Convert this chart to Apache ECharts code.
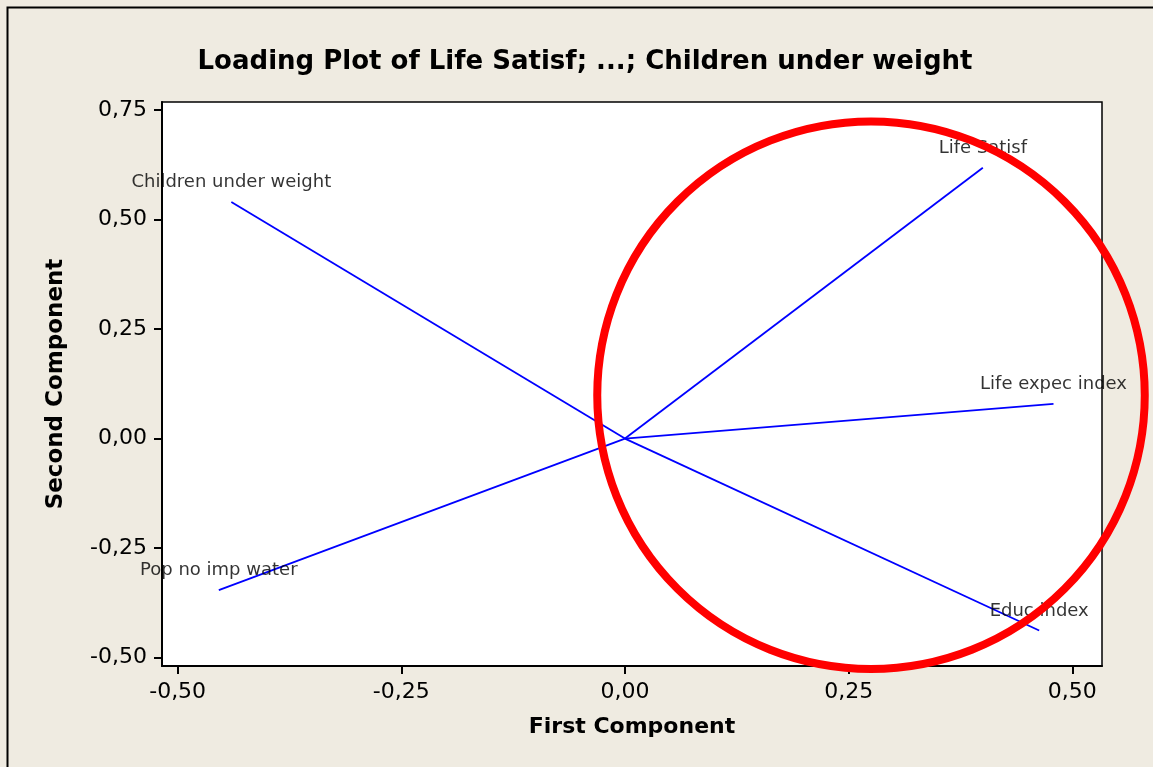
<!DOCTYPE html>
<html>
<head>
<meta charset="utf-8">
<script src="https://cdn.jsdelivr.net/npm/echarts@6/dist/echarts.min.js"></script>
<style>
  html, body { margin: 0; padding: 0; background: #efebe1; }
  #chart { width: 1153px; height: 767px; }
</style>
</head>
<body>
<div id="chart"></div>
<script>
// loadings
const variables = ['Life Satisf', 'Life expec index', 'Educ index', 'Pop no imp water', 'Children under weight']
const firstComp = [0.400, 0.479, 0.463, -0.454, -0.440]
const secondComp = [0.618, 0.079, -0.438, -0.346, 0.540]
const tickValues = [-0.5, -0.25, 0, 0.25, 0.5]
const yTickValues = [-0.5, -0.25, 0, 0.25, 0.5, 0.75]
// red highlight circle (centre in data units, radius in first-component units)
const circleCentre = [0.275, 0.099]
const circleRadius = 0.306

const chart = echarts.init(document.getElementById('chart'))
const fmt = v => v.toFixed(2).replace('.', ',')
const font = 'DejaVu Sans'

const lineSeries = variables.map((name, i) => ({
  name: name,
  type: 'line',
  data: [[0, 0], [firstComp[i], secondComp[i]]],
  showSymbol: false,
  symbol: 'none',
  lineStyle: { color: '#0000ff', width: 1.8 },
  z: 3
}))

const option = {
  backgroundColor: '#efebe1',
  animation: false,
  title: {
    text: 'Loading Plot of Life Satisf; ...; Children under weight',
    left: 580,
    textAlign: 'center',
    top: 44,
    textStyle: { fontFamily: font, fontSize: 26, fontWeight: 'bold', color: '#000' }
  },
  graphic: [{
    type: 'rect',
    left: 5,
    top: 5,
    shape: { width: 2000, height: 2000 },
    style: { fill: 'none', stroke: '#000', lineWidth: 2 },
    silent: true
  }],
  grid: {
    left: 162, top: 102, right: 51, bottom: 101,
    show: true, backgroundColor: '#fff', borderColor: '#000', borderWidth: 1.5
  },
  xAxis: {
    type: 'value',
    min: -0.5175,
    max: 0.5332,
    name: 'First Component',
    nameLocation: 'middle',
    nameGap: 50,
    nameTextStyle: { fontFamily: font, fontSize: 22, fontWeight: 'bold', color: '#000' },
    splitLine: { show: false },
    axisLine: { show: true, onZero: false, lineStyle: { color: '#000', width: 2 } },
    axisTick: { show: true, length: 8, customValues: tickValues, lineStyle: { color: '#000', width: 2 } },
    axisLabel: { customValues: tickValues, formatter: fmt, fontFamily: font, fontSize: 22, color: '#000', margin: 15 }
  },
  yAxis: {
    type: 'value',
    min: -0.519,
    max: 0.768,
    name: 'Second Component',
    nameLocation: 'middle',
    nameGap: 94,
    nameTextStyle: { fontFamily: font, fontSize: 23, fontWeight: 'bold', color: '#000' },
    splitLine: { show: false },
    axisLine: { show: true, onZero: false, lineStyle: { color: '#000', width: 2 } },
    axisTick: { show: true, length: 8, customValues: yTickValues, lineStyle: { color: '#000', width: 2 } },
    axisLabel: { customValues: yTickValues, formatter: fmt, fontFamily: font, fontSize: 22, color: '#000', margin: 15 }
  },
  series: lineSeries.concat([
    {
      name: 'labels',
      type: 'scatter',
      data: variables.map((name, i) => ({ name: name, value: [firstComp[i], secondComp[i]] })),
      symbolSize: 1,
      itemStyle: { color: 'transparent' },
      label: {
        show: true,
        position: 'top',
        distance: 10,
        formatter: p => p.name,
        fontFamily: font,
        fontSize: 18,
        color: '#000',
        textBorderWidth: 0
      },
      z: 4
    },
    {
      name: 'circle',
      type: 'custom',
      clip: false,
      data: [circleCentre],
      renderItem: (params, api) => {
        const c = api.coord([api.value(0), api.value(1)])
        const r = api.size([circleRadius, 0])[0]
        return {
          type: 'circle',
          shape: { cx: c[0], cy: c[1], r: r },
          style: { fill: 'none', stroke: '#ff0000', lineWidth: 8 }
        }
      },
      z: 5
    }
  ])
}
chart.setOption(option)
</script>
</body>
</html>
